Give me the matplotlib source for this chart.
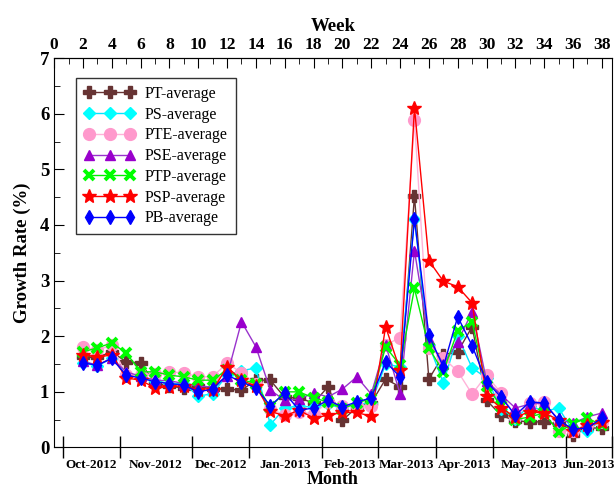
import matplotlib.pyplot as plt
from matplotlib.ticker import MultipleLocator, FixedLocator, NullFormatter

plt.rcParams['font.family'] = ['Liberation Serif', 'DejaVu Serif']

weeks = list(range(2, 39))

pt = [1.62, 1.62, 1.72, 1.54, 1.52, 1.16, 1.10, 1.07, 1.10, 1.05, 1.05, 1.03, 1.21,
      1.21, 0.90, 0.89, 0.80, 1.09, 0.49, 0.72, 0.80, 1.23, 1.09, 4.52, 1.23, 1.66,
      1.72, 2.17, 0.85, 0.58, 0.48, 0.46, 0.46, 0.42, 0.22, 0.35, 0.35]
ps = [1.52, 1.47, 1.60, 1.32, 1.27, 1.20, 1.15, 1.15, 0.92, 0.97, 1.30, 1.38, 1.43,
      0.41, 0.71, 0.75, 0.72, 0.78, 0.70, 0.78, 0.80, 1.50, 1.45, 4.10, 1.85, 1.16,
      2.00, 1.43, 1.25, 0.70, 0.52, 0.75, 0.65, 0.71, 0.30, 0.30, 0.50]
pte = [1.81, 1.75, 1.84, 1.30, 1.30, 1.33, 1.36, 1.34, 1.27, 1.27, 1.52, 1.34, 1.15,
       0.70, 0.58, 0.64, 0.60, 0.82, 0.75, 0.75, 0.75, 1.85, 1.97, 5.88, 1.79, 1.61,
       1.37, 0.96, 1.30, 0.98, 0.55, 0.80, 0.82, 0.30, 0.30, 0.40, 0.45]
pse = [1.55, 1.48, 1.61, 1.36, 1.28, 1.21, 1.20, 1.15, 1.10, 1.09, 1.29, 2.26, 1.81,
       1.03, 0.85, 0.87, 0.98, 0.91, 1.05, 1.27, 0.96, 1.85, 0.96, 3.54, 1.95, 1.50,
       1.90, 2.44, 1.20, 0.95, 0.71, 0.78, 0.80, 0.50, 0.44, 0.55, 0.62]
ptp = [1.72, 1.79, 1.88, 1.70, 1.36, 1.36, 1.30, 1.27, 1.21, 1.21, 1.40, 1.22, 1.15,
       0.72, 1.00, 1.00, 0.89, 0.82, 0.70, 0.80, 0.88, 1.81, 1.48, 2.86, 1.79, 1.36,
       2.10, 2.26, 1.10, 0.75, 0.50, 0.55, 0.62, 0.28, 0.43, 0.53, 0.40]
psp = [1.66, 1.63, 1.66, 1.25, 1.21, 1.07, 1.09, 1.11, 1.03, 1.03, 1.45, 1.21, 1.10,
       0.65, 0.57, 0.67, 0.53, 0.58, 0.63, 0.63, 0.56, 2.17, 1.39, 6.11, 3.36, 2.99,
       2.89, 2.60, 0.93, 0.71, 0.55, 0.64, 0.62, 0.50, 0.30, 0.40, 0.45]
pb = [1.52, 1.48, 1.60, 1.30, 1.25, 1.18, 1.15, 1.12, 1.00, 1.05, 1.30, 1.18, 1.07,
      0.75, 0.98, 0.67, 0.71, 0.85, 0.73, 0.82, 0.89, 1.54, 1.27, 4.10, 2.02, 1.45,
      2.35, 1.83, 1.18, 0.91, 0.58, 0.82, 0.80, 0.49, 0.33, 0.35, 0.53]

month_labels = ['Oct-2012', 'Nov-2012', 'Dec-2012', 'Jan-2013', 'Feb-2013',
                'Mar-2013', 'Apr-2013', 'May-2013', 'Jun-2013']
month_edges = [0.62, 4.58, 9.57, 13.52, 18.59, 22.47, 26.49, 30.44, 35.51, 38.70]

series = [
    ('PT-average', pt, '#663333', '#663333', 'P', 8, 1),
    ('PS-average', ps, '#00e5ff', '#00ffff', 'D', 6, 1),
    ('PTE-average', pte, '#ffb3d9', '#ff99cc', 'o', 8.5, 1),
    ('PSE-average', pse, '#9933cc', '#9900cc', '^', 7, 1),
    ('PTP-average', ptp, '#00ee00', '#00ff00', 'x', 7, 2.8),
    ('PSP-average', psp, '#ff0000', '#ff0000', '*', 10, 1),
    ('PB-average', pb, '#0000ff', '#0000ff', 'd', 7.5, 1),
]

fig = plt.figure(figsize=(6.15, 4.88), dpi=100)
ax = fig.add_axes([0.088, 0.083, 0.907, 0.798])

for name, vals, lc, mc, mk, ms, mew in series:
    ax.plot(weeks, vals, color=lc, lw=1.0, marker=mk, markersize=ms,
            markerfacecolor=mc, markeredgecolor=mc, markeredgewidth=mew, label=name)

ax.set_xlim(0, 38.7)
ax.set_ylim(0, 7)

# bottom month axis
ax.xaxis.set_major_locator(FixedLocator(month_edges))
ax.xaxis.set_major_formatter(NullFormatter())
mids = [(month_edges[i] + month_edges[i + 1]) / 2 for i in range(len(month_labels))]
ax.xaxis.set_minor_locator(FixedLocator(mids))
ax.set_xticklabels(month_labels, minor=True, fontsize=9.5, fontweight='bold')
ax.tick_params(axis='x', which='major', direction='inout', length=16, width=1)
ax.tick_params(axis='x', which='minor', length=0, pad=8)
ax.set_xlabel('Month', fontsize=13, fontweight='bold', labelpad=0)

# y axis
ax.yaxis.set_major_locator(MultipleLocator(1))
ax.yaxis.set_minor_locator(MultipleLocator(0.5))
ax.tick_params(axis='y', which='major', direction='in', length=7, labelsize=13.5)
ax.tick_params(axis='y', which='minor', direction='in', length=4)
for t in ax.get_yticklabels():
    t.set_fontweight('bold')
ax.set_ylabel('Growth Rate (%)', fontsize=13.5, fontweight='bold', labelpad=6)

# top week axis
top = ax.secondary_xaxis('top')
top.xaxis.set_major_locator(MultipleLocator(2))
top.xaxis.set_minor_locator(MultipleLocator(1))
top.tick_params(which='major', direction='in', length=7, labelsize=12.5, pad=4)
top.tick_params(which='minor', direction='in', length=4)
for t in top.get_xticklabels():
    t.set_fontweight('bold')
top.set_xlabel('Week', fontsize=13.5, fontweight='bold', labelpad=4)

leg = ax.legend(loc='upper left', bbox_to_anchor=(0.025, 0.97), numpoints=3,
                fontsize=11.5, frameon=True, fancybox=False, handlelength=3.2,
                handletextpad=0.6, labelspacing=0.3, borderpad=0.5)
leg.get_frame().set_edgecolor('black')
leg.get_frame().set_linewidth(1)

fig.savefig('out.png', dpi=100)
